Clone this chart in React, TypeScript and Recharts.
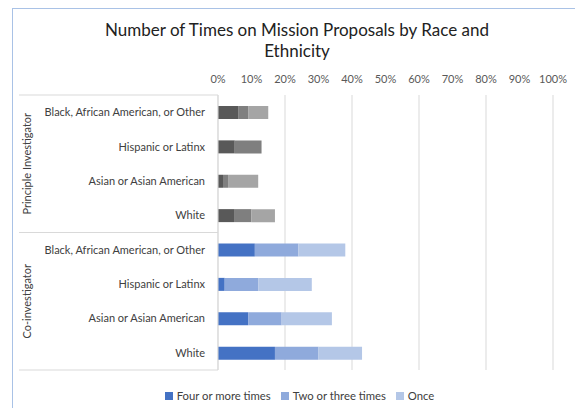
import React from "react";
import {
  BarChart,
  Bar,
  XAxis,
  YAxis,
  CartesianGrid,
  Legend,
  Cell,
} from "recharts";

// values in percent
const roles = ["Principle Investigator", "Co-investigator"];
const races = [
  "Black, African American, or Other",
  "Hispanic or Latinx",
  "Asian or Asian American",
  "White",
];
const fourOrMore = [6, 5, 1.5, 5, 11, 2, 9, 17];
const twoOrThree = [3, 8, 1.5, 5, 13, 10, 10, 13];
const once = [6, 0, 9, 7, 14, 16, 15, 13];
const xTicks = [0, 10, 20, 30, 40, 50, 60, 70, 80, 90, 100];

const data = roles.flatMap((role, r) =>
  races.map((race, i) => {
    const k = r * races.length + i;
    return {
      name: role + "|" + race,
      role,
      race,
      four: fourOrMore[k],
      two: twoOrThree[k],
      once: once[k],
    };
  })
);

const greys = { four: "#595959", two: "#7f7f7f", once: "#a5a5a5" };
const blues = { four: "#4472c4", two: "#8faadc", once: "#b4c7e7" };

const FONT = "Lato, 'Open Sans', sans-serif";
const PLOT_TOP = 95;
const PLOT_BOTTOM = 370;
const ROW = (PLOT_BOTTOM - PLOT_TOP) / data.length;

function RaceTick(props: any) {
  const { y, payload } = props;
  const [role, race] = String(payload.value).split("|");
  const i = races.indexOf(race);
  const half = ROW / 2;
  return (
    <g>
      <text
        x={205}
        y={y}
        dy={4}
        textAnchor="end"
        fontSize={11}
        fill="#404040"
        fontFamily={FONT}
      >
        {race}
      </text>
      {i === 0 && (
        <line x1={19} x2={218} y1={y - half} y2={y - half} stroke="#d9d9d9" />
      )}
      {i === races.length - 1 && (
        <line x1={19} x2={218} y1={y + half} y2={y + half} stroke="#d9d9d9" />
      )}
      {i === 1 && (
        <text
          x={27}
          y={y + half}
          dy={4}
          textAnchor="middle"
          fontSize={11}
          fill="#404040"
          fontFamily={FONT}
          transform={`rotate(-90, 27, ${y + half})`}
        >
          {role}
        </text>
      )}
    </g>
  );
}

export default function App() {
  const keys: Array<"four" | "two" | "once"> = ["four", "two", "once"];
  const labels = {
    four: "Four or more times",
    two: "Two or three times",
    once: "Once",
  };
  return (
    <div
      style={{
        position: "absolute",
        left: 0,
        top: 0,
        width: 575,
        height: 408,
        background: "#fff",
        fontFamily: FONT,
        overflow: "hidden",
      }}
    >
      <div
        style={{
          position: "absolute",
          left: 12,
          top: 8,
          width: 600,
          height: 420,
          borderTop: "1px solid #a9c2e6",
          borderLeft: "1px solid #a9c2e6",
        }}
      />
      <div
        style={{
          position: "absolute",
          left: 12,
          top: 19,
          width: 570,
          textAlign: "center",
          fontSize: 17,
          lineHeight: "21px",
          color: "#222",
        }}
      >
        Number of Times on Mission Proposals by Race and
        <br />
        Ethnicity
      </div>
      <div style={{ position: "absolute", left: 0, top: 0 }}>
        <BarChart
          width={575}
          height={408}
          data={data}
          layout="vertical"
          margin={{ top: PLOT_TOP - 30, right: 22, bottom: 16, left: 12 }}
        >
          <CartesianGrid horizontal={false} stroke="#d9d9d9" />
          <XAxis
            type="number"
            orientation="top"
            domain={[0, 100]}
            ticks={xTicks}
            tickFormatter={(v) => `${v}%`}
            axisLine={false}
            tickLine={false}
            tickMargin={6}
            height={30}
            tick={{ fontSize: 11, fill: "#595959", fontFamily: FONT }}
          />
          <YAxis
            type="category"
            dataKey="name"
            width={206}
            tickLine={false}
            axisLine={{ stroke: "#d9d9d9" }}
            tick={<RaceTick />}
            interval={0}
          />
          <Legend
            verticalAlign="bottom"
            iconType="square"
            iconSize={8}
            height={22}
            itemSorter={(item: any) => keys.indexOf(item.dataKey)}
            wrapperStyle={{ bottom: 2, left: 37, width: 535 }}
            formatter={(value) => (
              <span style={{ color: "#404040", fontSize: 11.3 }}>{value}</span>
            )}
          />
          {keys.map((k) => (
            <Bar
              key={k}
              dataKey={k}
              name={labels[k]}
              stackId="a"
              fill={blues[k]}
              barSize={13}
              isAnimationActive={false}
            >
              {data.map((d, idx) => (
                <Cell
                  key={idx}
                  fill={d.role === roles[0] ? greys[k] : blues[k]}
                />
              ))}
            </Bar>
          ))}
        </BarChart>
      </div>
    </div>
  );
}
